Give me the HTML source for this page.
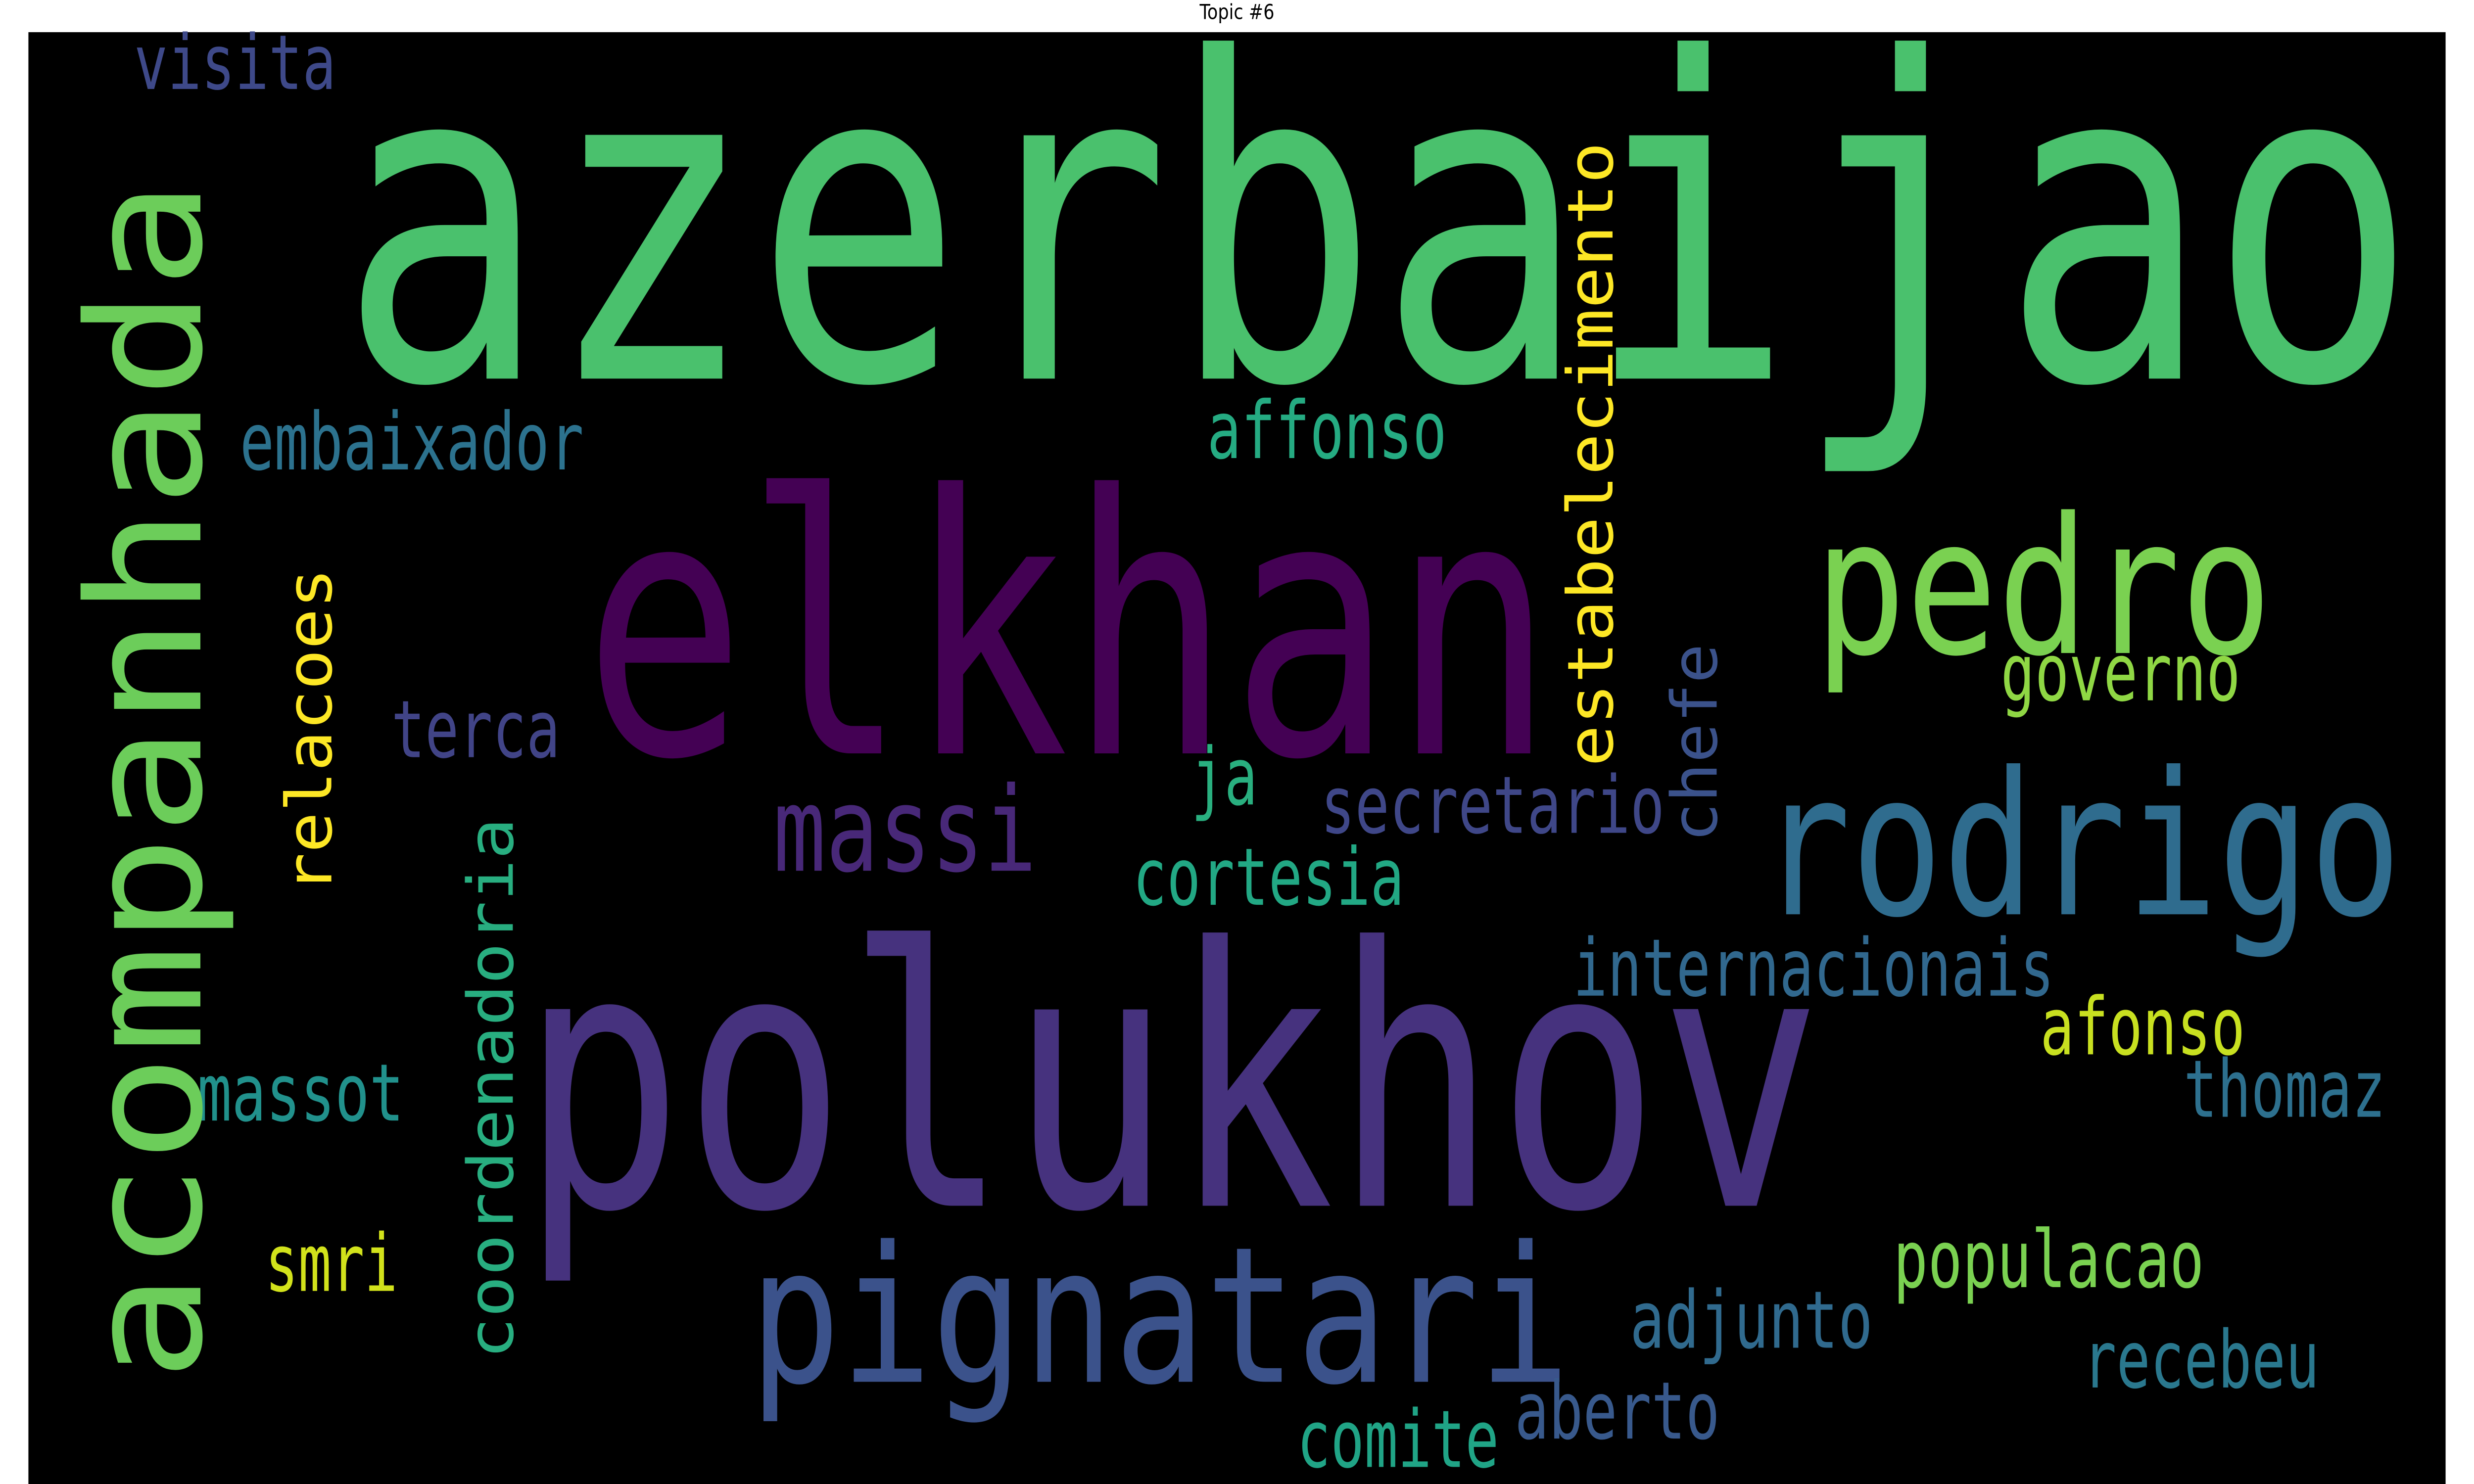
<!DOCTYPE html>
<html><head><meta charset="utf-8"><style>
html,body{margin:0;padding:0;background:#fff;width:100vw;height:100vh;overflow:hidden}
svg{display:block;position:absolute;left:0;top:0;width:100vw;height:100vh}
text{font-family:"DejaVu Sans Mono","Liberation Mono",monospace}
</style></head><body>
<svg id="chart" viewBox="0 0 1568 784" preserveAspectRatio="none" xmlns="http://www.w3.org/2000/svg">
<text x="784" y="10" text-anchor="middle" font-size="11" style="font-family:'DejaVu Sans',sans-serif" fill="#000">Topic #6</text>
<rect x="18" y="17" width="1532" height="767" fill="#000"/>
<g id="words"></g>
</svg>
<script>
const words=["azerbaijao","elkhan","polukhov","pedro","rodrigo","pignatari","massi","embaixador","affonso","visita","terca","governo","ja","secretario","cortesia","internacionais","afonso","massot","thomaz","smri","populacao","adjunto","recebeu","aberto","comite","acompanhada","estabelecimento","chefe","relacoes","coordenadoria"];
const colors=["#4ac16d","#440154","#46327e","#7ad151","#2f6c8e","#3b528b","#482878","#2c728e","#25ab82","#3e4989","#414487","#8fd744","#29af7f","#3f4788","#22a884","#31688e","#c8e020","#21918c","#2d708e","#d2e21b","#7ad151","#306a8e","#2a788e","#38598c","#20a486","#6ccd5a","#fde725","#3b528b","#fde725","#28ae80"];
const sizes=[235,190,190,100,105,100,62,42,42,40,42,42,42,42,42,42,42,42,42,42,42,42,42,42,42,100,40,40,40,40];
const vertical=[0,0,0,0,0,0,0,0,0,0,0,0,0,0,0,0,0,0,0,0,0,0,0,0,0,1,1,1,1,1];
// layout boxes: horizontal [left,right,baseline]; vertical [baselineX,top,bottom]
const boxA=[215,370,330,1150,1115,475,490,152,765,85,248,1268,755,837,718,997,1293,125,1384,168,1200,1033,1320,960,822,127,1022,1088,210,325];
const boxB=[1532,985,1155,1440,1522,995,657,370,917,213,355,1420,797,1055,890,1302,1423,256,1512,252,1397,1187,1470,1090,950,95,75,340,300,432];
const boxC=[200,398,637,345,483,730,460,248,242,47,400,370,425,440,478,526,557,592,590,682,680,712,733,760,775,730,405,445,472,718];
const g=document.getElementById('words');
const NS='http://www.w3.org/2000/svg';
for(let i=0;i<words.length;i++){
  const t=document.createElementNS(NS,'text');
  t.textContent=words[i];
  t.setAttribute('fill',colors[i]);
  t.setAttribute('font-size',sizes[i]);
  t.setAttribute('lengthAdjust','spacingAndGlyphs');
  if(vertical[i]){
    t.setAttribute('transform','translate('+boxA[i]+','+boxC[i]+') rotate(-90)');
    t.setAttribute('textLength',boxC[i]-boxB[i]);
  }else{
    t.setAttribute('x',boxA[i]);
    t.setAttribute('y',boxC[i]);
    t.setAttribute('textLength',boxB[i]-boxA[i]);
  }
  
  
  g.appendChild(t);
}
</script>
</body></html>
